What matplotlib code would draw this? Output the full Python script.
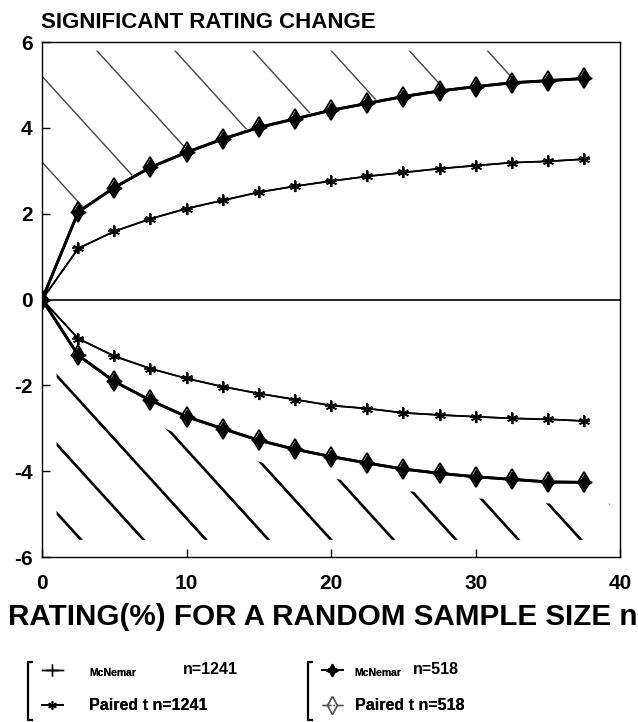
import matplotlib
matplotlib.use("Agg")
import matplotlib.pyplot as plt
import numpy as np
from matplotlib.lines import Line2D
from matplotlib.patches import Polygon

plt.rcParams['font.family'] = ['Liberation Sans', 'DejaVu Sans']

# rating (%) for a random sample size n
rating = [0, 2.5, 5, 7.5, 10, 12.5, 15, 17.5, 20, 22.5, 25, 27.5, 30, 32.5, 35, 37.5]

# significant rating change (McNemar and paired t give the same curves)
up_518 = [0, 2.04, 2.61, 3.08, 3.43, 3.74, 4.01, 4.21, 4.41, 4.57, 4.73, 4.86, 4.96, 5.05, 5.10, 5.15]
up_1241 = [0, 1.19, 1.59, 1.88, 2.12, 2.31, 2.50, 2.64, 2.76, 2.87, 2.96, 3.05, 3.12, 3.19, 3.22, 3.27]
lo_1241 = [0, -0.91, -1.32, -1.61, -1.84, -2.03, -2.19, -2.33, -2.47, -2.54, -2.64, -2.69, -2.73, -2.77, -2.79, -2.83]
lo_518 = [0, -1.30, -1.91, -2.35, -2.73, -3.01, -3.28, -3.49, -3.66, -3.81, -3.95, -4.05, -4.13, -4.19, -4.25, -4.26]

xticks = [0, 10, 20, 30, 40]
yticks = [-6, -4, -2, 0, 2, 4, 6]
ytick_labels = ['-6', '-4', '-2', '0', '2', '4', '6']

W, H = 638, 722
fig = plt.figure(figsize=(W / 100, H / 100), dpi=100)
ax = fig.add_axes([0.066, 0.2285, 0.906, 0.7133])
ax.set_xlim(0, 40)
ax.set_ylim(-6, 6)

# hatching of the significant regions (lines clipped to the region)
slope = -0.37
xf = np.linspace(1.0, 39.3, 120)
lo_top = np.interp(xf, rating, lo_518) - 0.5
lo_clip = Polygon(np.column_stack([np.r_[xf, xf[::-1]], np.r_[lo_top, np.full(len(xf), -5.6)]]),
                  closed=True, transform=ax.transData)
for b in np.arange(-4.6, 10.5, 1.6):
    ln, = ax.plot([0, 40], [b, b + slope * 40], color='black', lw=1.9)
    ln.set_clip_path(lo_clip)

xu = np.linspace(0.0, 39.3, 120)
up_bot = np.interp(xu, rating, up_518) + 0.05
up_clip = Polygon(np.column_stack([np.r_[xu, xu[::-1]], np.r_[up_bot, np.full(len(xu), 5.8)]]),
                  closed=True, transform=ax.transData)
for b in np.arange(3.2, 18.5, 2.0):
    ln, = ax.plot([0, 40], [b, b + slope * 40], color='#444444', lw=1.0)
    ln.set_clip_path(up_clip)

ax.axhline(0, color='black', lw=1.2)

# n=1241 curves
ax.plot(rating, up_1241, color='black', lw=1.2, marker=(6, 2, 0), ms=8, mew=1.2)
ax.plot(rating, lo_1241, color='black', lw=1.2, marker=(6, 2, 0), ms=8, mew=1.2)
ax.plot(rating, up_1241, color='black', lw=1.2, marker='+', ms=9, mew=1.2)
ax.plot(rating, lo_1241, color='black', lw=1.2, marker='+', ms=9, mew=1.2)

# n=518 curves
ax.plot(rating, up_518, color='black', lw=2.0, marker='d', ms=10, mfc='none', mew=1.3)
ax.plot(rating, lo_518, color='black', lw=2.0, marker='d', ms=10, mfc='none', mew=1.3)
ax.plot(rating, up_518, color='black', lw=2.0, marker=(4, 1, 0), ms=11)
ax.plot(rating, lo_518, color='black', lw=2.0, marker=(4, 1, 0), ms=11)

ax.set_xticks(xticks)
ax.set_yticks(yticks)
ax.set_yticklabels(ytick_labels)
ax.tick_params(direction='in', length=6, width=1, labelsize=15)
ax.tick_params(axis='x', pad=12)
ax.tick_params(axis='y', pad=7)
for lab in ax.get_xticklabels() + ax.get_yticklabels():
    lab.set_fontweight('bold')
for sp in ax.spines.values():
    sp.set_linewidth(1.0)

fig.text(41 / W, 1 - 23 / H, 'SIGNIFICANT RATING CHANGE', fontsize=16, fontweight='bold',
         ha='left', va='center')
fig.text(8 / W, 1 - 617 / H, 'RATING(%) FOR A RANDOM SAMPLE SIZE n', fontsize=21.3,
         fontweight='bold', ha='left', va='center')

# legends
h_mc1241 = Line2D([], [], color='black', lw=1.0, marker='+', ms=9, mew=1.0)
h_pt1241 = Line2D([], [], color='black', lw=1.3, marker=(6, 2, 0), ms=6)
h_mc518 = Line2D([], [], color='black', lw=1.3, marker=(4, 1, 0), ms=9)
h_pt518 = Line2D([], [], color='#555555', lw=1.0, ls='-.', marker='d', ms=9, mfc='none', mew=1.0)

for handles, labels, x0, pad, nlab, nx in [
        ([h_mc1241, h_pt1241], ['McNemar', 'Paired t n=1241'], 42, 1.65, 'n=1241', 183),
        ([h_mc518, h_pt518], ['McNemar', 'Paired t n=518'], 322, 0.75, 'n=518', 413)]:
    leg = fig.legend(handles, labels, loc='center left', bbox_to_anchor=(x0 / W, 1 - 689 / H),
                     frameon=False, borderpad=0, borderaxespad=0, handlelength=1.3,
                     handletextpad=pad, labelspacing=1.3,
                     prop={'weight': 'bold', 'size': 11.5})
    leg.get_texts()[0].set_fontsize(7.5)
    fig.add_artist(leg)
    fig.text(nx / W, 1 - 670 / H, nlab, fontsize=11.5, fontweight='bold', ha='left', va='center')
    bx = x0 - 14
    fig.add_artist(Line2D([(bx + 4) / W, bx / W, bx / W, (bx + 4) / W],
                          [1 - 662 / H, 1 - 662 / H, 1 - 720 / H, 1 - 720 / H],
                          transform=fig.transFigure, color='black', lw=1.6))

fig.savefig('out.png', dpi=100)
